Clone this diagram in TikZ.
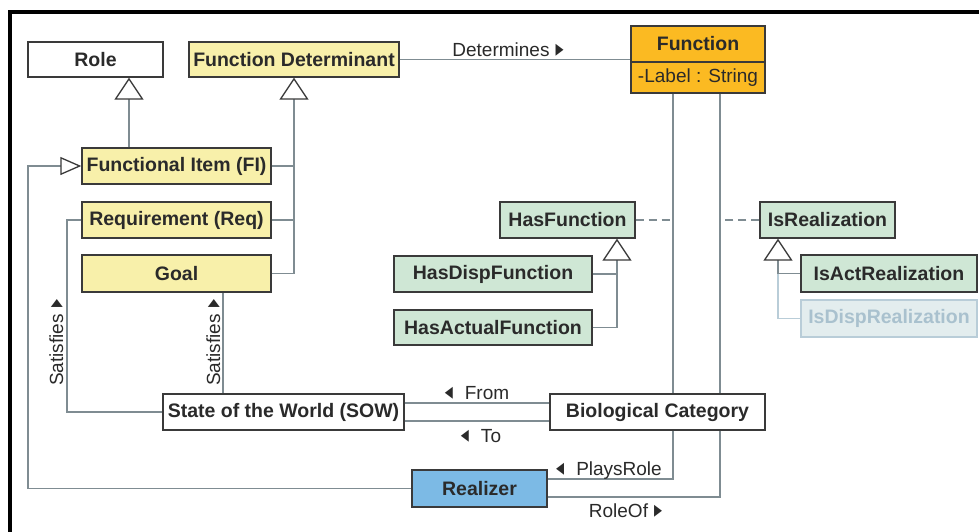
\documentclass[tikz,border=0pt]{standalone}
\usepackage{graphicx}
\usepackage{fontspec}
\setmainfont{Liberation Sans}
\newfontfamily\dvfont{DejaVu Sans}
\usetikzlibrary{arrows.meta}
\definecolor{yel}{HTML}{F8F0AA}
\definecolor{orng}{HTML}{FBBA22}
\definecolor{grn}{HTML}{CFE7D5}
\definecolor{blu}{HTML}{7CBAE5}
\definecolor{bordc}{HTML}{3A3A3A}
\definecolor{linec}{HTML}{7F8C92}
\definecolor{fadefill}{HTML}{E3EDEE}
\definecolor{fadebord}{HTML}{B9CDD8}
\definecolor{fadetext}{HTML}{A9C1CE}
\definecolor{txt}{HTML}{2A2A2A}
\newcommand{\rtri}{\scalebox{0.8}[1.2]{\dvfont\fontsize{20}{20}\selectfont ▸}}
\newcommand{\ltri}{\scalebox{0.8}[1.2]{\dvfont\fontsize{20}{20}\selectfont ◂}}
\begin{document}
\begin{tikzpicture}[x=1pt,y=-1pt,
  box/.style={draw=bordc, line width=1.4pt, inner sep=0pt, text=txt,
    font=\fontsize{19.5}{22}\selectfont\bfseries},
  yelbox/.style={box, fill=yel},
  grnbox/.style={box, fill=grn},
  conn/.style={draw=linec, line width=1.2pt},
  fadeline/.style={draw=fadebord, line width=1.2pt},
  gen/.style={-{Triangle[open, length=22pt, width=29pt, line width=1.3pt, color=bordc, fill=white]}},
  gensmall/.style={-{Triangle[open, length=21pt, width=18pt, line width=1.3pt, color=bordc, fill=white]}},
  lab/.style={inner sep=0pt, text=txt, font=\fontsize{19}{22}\selectfont}
]
\useasboundingbox (0,0) rectangle (979,531);
\fill[white] (0,0) rectangle (979,531);
% frame
\draw[line width=4pt, black] (10,535) -- (10,12) -- (985,12);

% nodes
\node[box, minimum width=135pt, minimum height=35pt] (role) at (95.5,59.5) {Role};
\node[yelbox, minimum width=210pt, minimum height=35pt] (fd) at (294,59.5) {Function Determinant};
\node[box, fill=orng, minimum width=134pt, minimum height=36pt] (funtop) at (698,44) {Function};
\node[box, fill=orng, minimum width=134pt, minimum height=31pt, font=\fontsize{19}{22}\selectfont] (funbot) at (698,77.5) {-Label : String};
\node[yelbox, minimum width=189pt, minimum height=36pt] (fi) at (176.5,166) {Functional Item (FI)};
\node[yelbox, minimum width=189pt, minimum height=36pt] (req) at (176.5,220) {Requirement (Req)};
\node[yelbox, minimum width=189pt, minimum height=37pt] (goal) at (176.5,273.5) {Goal};
\node[box, fill=white, minimum width=241pt, minimum height=36pt] (sow) at (283.5,412) {State of the World (SOW)};
\node[box, fill=white, minimum width=215pt, minimum height=36pt] (bc) at (657.5,412) {Biological Category};
\node[box, fill=blu, minimum width=135pt, minimum height=37pt] (real) at (479.5,488.5) {Realizer};
\node[grnbox, minimum width=135pt, minimum height=36pt] (hf) at (567.5,220) {HasFunction};
\node[grnbox, minimum width=135pt, minimum height=36pt] (isr) at (827.5,220) {IsRealization};
\node[grnbox, minimum width=198pt, minimum height=36pt] (hdisp) at (493,274) {HasDispFunction};
\node[grnbox, minimum width=198pt, minimum height=35pt] (hact) at (493,327.5) {HasActualFunction};
\node[grnbox, minimum width=176pt, minimum height=37pt] (iact) at (889,273.5) {IsActRealization};
\node[box, fill=fadefill, draw=fadebord, text=fadetext, minimum width=176pt, minimum height=37pt] (idisp) at (889,318.5) {IsDispRealization};

% helper coordinates
\coordinate (rx) at (129,0);
\coordinate (lx) at (28,0);
\coordinate (sx) at (67,0);
\coordinate (gx) at (223,0);
\coordinate (ax) at (673,0);
\coordinate (bx) at (720,0);
\coordinate (hx) at (617,0);
\coordinate (ix) at (778,0);
\coordinate (fy) at (0,403);
\coordinate (ty) at (0,421);
\coordinate (py) at (0,479);
\coordinate (qy) at (0,497);

% connectors
\draw[conn, gen] (fi.north -| rx) -- (role.south -| rx);
\draw[conn, gen] (goal.east) -| (fd.south);
\draw[conn] (fi.east) -- (fi.east -| fd.south);
\draw[conn] (req.east) -- (req.east -| fd.south);
\draw[conn, gensmall] (real.west) -- (real.west -| lx) -- (fi.west -| lx) -- (fi.west);
\draw[conn] (req.west) -- (req.west -| sx) |- (sow.west);
\draw[conn] (sow.north -| gx) -- (goal.south -| gx);
\draw[conn] (sow.east |- fy) -- (bc.west |- fy);
\draw[conn] (sow.east |- ty) -- (bc.west |- ty);
\draw[conn] (fd.east) -- (fd.east -| funtop.west);
\draw[conn] (funbot.south -| ax) -- (bc.north -| ax);
\draw[conn] (funbot.south -| bx) -- (bc.north -| bx);
\draw[conn] (bc.south -| ax) |- (real.east |- py);
\draw[conn] (bc.south -| bx) |- (real.east |- qy);
\draw[conn, dash pattern=on 8pt off 5pt] (hf.east) -- (hf.east -| ax);
\draw[conn, dash pattern=on 8pt off 5pt] (isr.west) -- (isr.west -| bx);
\draw[conn, gen] (hact.east) -| (hf.south -| hx);
\draw[conn] (hdisp.east) -- (hdisp.east -| hx);
\draw[fadeline] (idisp.west) -| (iact.west -| ix);
\draw[conn, gen] (iact.west) -| (isr.south -| ix);

% labels
\node[lab, anchor=base] (ldet) at (508,56) {Determines\hspace{6pt}\rtri};
\node[lab, anchor=base] (lfrom) at (477,399) {\ltri\hspace{12pt}From};
\node[lab, anchor=base] (lto) at (481,442) {\ltri\hspace{12pt}To};
\node[lab, anchor=base] (lplay) at (609,475) {\ltri\hspace{12pt}PlaysRole};
\node[lab, anchor=base] (lrole) at (625.5,517) {RoleOf\hspace{6pt}\rtri};
\node[lab, rotate=90, anchor=base] (lsat1) at (63,342.5) {Satisfies\hspace{7pt}\rtri};
\node[lab, rotate=90, anchor=base] (lsat2) at (220,342.5) {Satisfies\hspace{7pt}\rtri};
\end{tikzpicture}
\end{document}
